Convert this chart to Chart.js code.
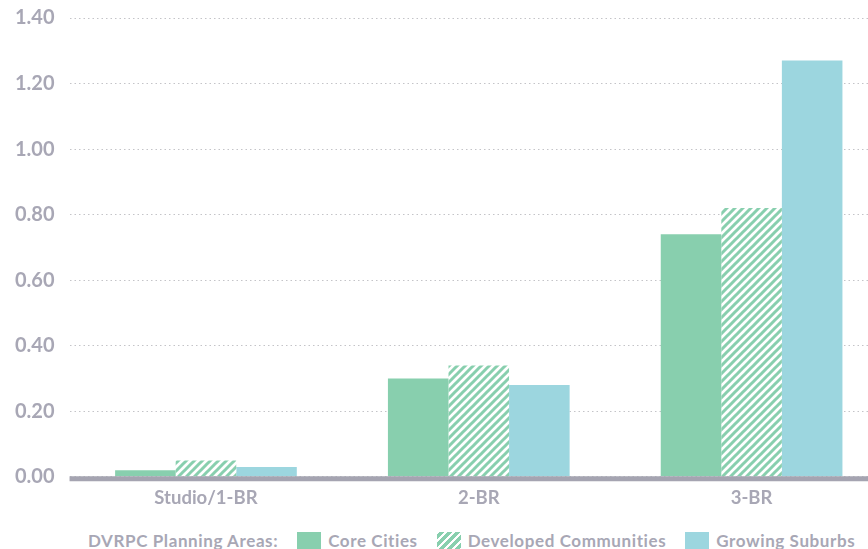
<!DOCTYPE html>
<html lang="en">
<head>
    <meta charset="UTF-8">
    <title>Bedroom Mix by Planning Area</title>
    <script src="https://cdn.jsdelivr.net/npm/chart.js"></script>
    <style>
        html, body { margin: 0; padding: 0; background: #fff; overflow: hidden; }
        body { width: 868px; height: 549px; position: relative; }
        #wrap { position: absolute; left: 0; top: -9px; width: 900px; height: 520px; }
        #legend {
            position: absolute; left: 88px; top: 530px;
            display: flex; align-items: center;
            font-family: 'Lato', sans-serif; font-weight: bold; font-size: 17px;
            letter-spacing: 0.6px;
            color: #a8a7b5; white-space: nowrap;
        }
        #legend .sw { width: 24px; height: 18px; margin-right: 7px; }
        #legend .item { display: flex; align-items: center; margin-left: 19px; }
    </style>
</head>
<body>
    <div id="wrap"><canvas id="chart"></canvas></div>
    <div id="legend"></div>

    <script>
        // categories and values per planning area
        const categories = ['Studio/1-BR', '2-BR', '3-BR'];
        const coreCities = [0.02, 0.30, 0.74];
        const developedCommunities = [0.05, 0.34, 0.82];
        const growingSuburbs = [0.03, 0.28, 1.27];
        const seriesNames = ['Core Cities', 'Developed Communities', 'Growing Suburbs'];

        const green = '#88cfae';
        const blue = '#9cd6df';
        const textGray = '#a8a7b5';

        // diagonal stripe fill for Developed Communities
        function stripes() {
            const c = document.createElement('canvas');
            c.width = 8; c.height = 8;
            const g = c.getContext('2d');
            g.fillStyle = '#fff';
            g.fillRect(0, 0, 8, 8);
            g.strokeStyle = green;
            g.lineWidth = 3;
            g.beginPath();
            g.moveTo(-2, 10); g.lineTo(10, -2);
            g.moveTo(-2, 2); g.lineTo(2, -2);
            g.moveTo(6, 10); g.lineTo(10, 6);
            g.stroke();
            return g.createPattern(c, 'repeat');
        }

        // thick baseline at zero
        const zeroLine = {
            id: 'zeroLine',
            afterDatasetsDraw(chart) {
                const y = chart.scales.y.getPixelForValue(0);
                const ctx = chart.ctx;
                ctx.save();
                ctx.strokeStyle = '#a5a4b1';
                ctx.lineWidth = 5;
                ctx.beginPath();
                ctx.moveTo(chart.chartArea.left, y + 2);
                ctx.lineTo(chart.chartArea.right, y + 2);
                ctx.stroke();
                ctx.restore();
            }
        };

        const ctx = document.getElementById('chart').getContext('2d');
        new Chart(ctx, {
            type: 'bar',
            data: {
                labels: categories,
                datasets: [
                    { label: seriesNames[0], data: coreCities, backgroundColor: green },
                    { label: seriesNames[1], data: developedCommunities, backgroundColor: stripes() },
                    { label: seriesNames[2], data: growingSuburbs, backgroundColor: blue }
                ]
            },
            options: {
                responsive: true,
                maintainAspectRatio: false,
                animation: false,
                layout: { padding: { top: 3, right: 12, left: 0, bottom: 0 } },
                datasets: { bar: { categoryPercentage: 0.666, barPercentage: 1.0 } },
                plugins: { legend: { display: false }, tooltip: { enabled: false } },
                scales: {
                    x: {
                        grid: { display: false },
                        border: { display: false },
                        ticks: {
                            color: textGray, padding: 2,
                            font: { family: 'Lato', size: 18.5, weight: 'bold' }
                        }
                    },
                    y: {
                        min: 0, max: 1.4,
                        grid: { color: '#c4c4c8', lineWidth: 1, drawTicks: false },
                        border: { display: false, dash: [1.5, 3] },
                        ticks: {
                            stepSize: 0.2, padding: 15, color: textGray,
                            font: { family: 'Lato', size: 20, weight: 'bold' },
                            callback: v => v.toFixed(2)
                        }
                    }
                }
            },
            plugins: [zeroLine]
        });

        // legend row below the chart
        const legend = document.getElementById('legend');
        const title = document.createElement('span');
        title.textContent = 'DVRPC Planning Areas:';
        legend.appendChild(title);
        const swatches = [green, 'repeating-linear-gradient(135deg, #fff 0 2px, ' + green + ' 2px 5px, #fff 5px 5.66px)', blue];
        seriesNames.forEach((name, i) => {
            const item = document.createElement('span');
            item.className = 'item';
            const sw = document.createElement('span');
            sw.className = 'sw';
            sw.style.background = swatches[i];
            item.appendChild(sw);
            item.appendChild(document.createTextNode(name));
            legend.appendChild(item);
        });
    </script>
</body>
</html>
